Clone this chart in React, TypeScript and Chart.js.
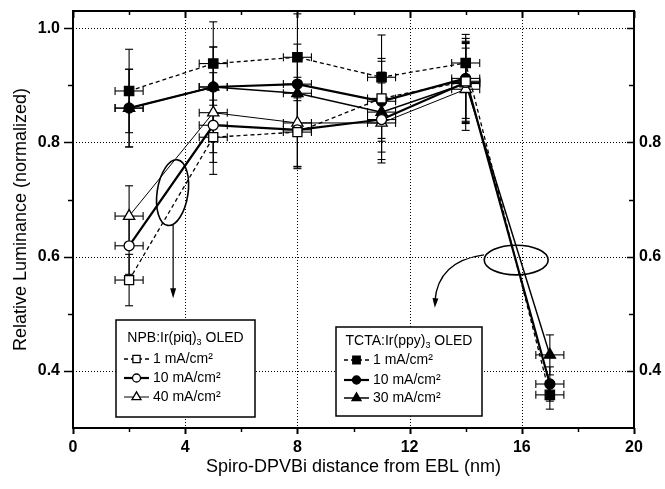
import React, { useEffect, useRef } from "react";
import { Chart, registerables } from "chart.js";
Chart.register(...registerables);

// ---------- data ----------
const npbDistances = [2, 5, 8, 11, 14];
const tctaDistances = [2, 5, 8, 11, 14, 17];

const npb1 = [0.559, 0.809, 0.818, 0.877, 0.907];
const npb1Err = [0.045, 0.065, 0.06, 0.07, 0.07];
const npb10 = [0.619, 0.83, 0.822, 0.84, 0.905];
const npb10Err = [0.05, 0.065, 0.065, 0.07, 0.07];
const npb40 = [0.671, 0.852, 0.834, 0.834, 0.893];
const npb40Err = [0.053, 0.07, 0.08, 0.07, 0.072];

const tcta1 = [0.89, 0.938, 0.949, 0.914, 0.939, 0.358];
const tcta1Err = [0.073, 0.073, 0.076, 0.074, 0.05, 0.025];
const tcta10 = [0.86, 0.897, 0.902, 0.872, 0.912, 0.377];
const tcta10Err = [0.068, 0.07, 0.07, 0.07, 0.07, 0.03];
const tcta30 = [0.86, 0.897, 0.886, 0.853, 0.903, 0.428];
const tcta30Err = [0.068, 0.07, 0.07, 0.07, 0.07, 0.035];

const xErr = 0.5;

const xTickValues = [0, 4, 8, 12, 16, 20];
const xMinorValues = [2, 6, 10, 14, 18];
const yTickValues = [0.4, 0.6, 0.8, 1.0];
const yMinorValues = [0.5, 0.7, 0.9];
const yRightLabelValues = [0.4, 0.6, 0.8];

const FONT = '"Liberation Sans", Arial, Helvetica, sans-serif';
const DASH = [4, 3];

type Series = {
  label: string;
  xs: number[];
  ys: number[];
  errs: number[];
  style: "rect" | "circle" | "triangle";
  filled: boolean;
  dash: number[];
  width: number;
  radius: number;
};

const npbSeries: Series[] = [
  { label: "1 mA/cm²", xs: npbDistances, ys: npb1, errs: npb1Err, style: "rect", filled: false, dash: DASH, width: 1.3, radius: 6.4 },
  { label: "10 mA/cm²", xs: npbDistances, ys: npb10, errs: npb10Err, style: "circle", filled: false, dash: [], width: 2.2, radius: 5 },
  { label: "40 mA/cm²", xs: npbDistances, ys: npb40, errs: npb40Err, style: "triangle", filled: false, dash: [], width: 1, radius: 6.5 },
];
const tctaSeries: Series[] = [
  { label: "1 mA/cm²", xs: tctaDistances, ys: tcta1, errs: tcta1Err, style: "rect", filled: true, dash: DASH, width: 1.3, radius: 6.6 },
  { label: "10 mA/cm²", xs: tctaDistances, ys: tcta10, errs: tcta10Err, style: "circle", filled: true, dash: [], width: 2.2, radius: 5 },
  { label: "30 mA/cm²", xs: tctaDistances, ys: tcta30, errs: tcta30Err, style: "triangle", filled: true, dash: [], width: 1.5, radius: 6.5 },
];

function drawMarker(ctx: CanvasRenderingContext2D, style: string, x: number, y: number, r: number, filled: boolean) {
  ctx.save();
  ctx.setLineDash([]);
  ctx.lineWidth = 1.3;
  ctx.strokeStyle = "#000";
  ctx.fillStyle = filled ? "#000" : "#fff";
  ctx.beginPath();
  if (style === "rect") {
    const s = Math.SQRT1_2 * r;
    ctx.rect(x - s, y - s, 2 * s, 2 * s);
  } else if (style === "circle") {
    ctx.arc(x, y, r, 0, Math.PI * 2);
  } else {
    let a = 0;
    ctx.moveTo(x + Math.sin(a) * r, y - Math.cos(a) * r);
    a += (2 * Math.PI) / 3;
    ctx.lineTo(x + Math.sin(a) * r, y - Math.cos(a) * r);
    a += (2 * Math.PI) / 3;
    ctx.lineTo(x + Math.sin(a) * r, y - Math.cos(a) * r);
    ctx.closePath();
  }
  ctx.fill();
  ctx.stroke();
  ctx.restore();
}

function seg(ctx: CanvasRenderingContext2D, x1: number, y1: number, x2: number, y2: number) {
  ctx.beginPath();
  ctx.moveTo(x1, y1);
  ctx.lineTo(x2, y2);
  ctx.stroke();
}

const backgroundPlugin = {
  id: "gridAndErrors",
  beforeDatasetsDraw(chart: any) {
    const { ctx, chartArea: a } = chart;
    const xs = chart.scales.x;
    const ys = chart.scales.y;
    ctx.save();
    // dotted grid
    ctx.strokeStyle = "#000";
    ctx.lineWidth = 1;
    ctx.setLineDash([1, 2]);
    xTickValues.slice(1, -1).forEach((v) => {
      const px = Math.round(xs.getPixelForValue(v)) + 0.5;
      seg(ctx, px, a.top, px, a.bottom);
    });
    yTickValues.forEach((v) => {
      const py = Math.round(ys.getPixelForValue(v)) + 0.5;
      seg(ctx, a.left, py, a.right, py);
    });
    ctx.setLineDash([]);
    // error bars
    ctx.lineWidth = 1.1;
    chart.data.datasets.forEach((ds: any) => {
      ds.data.forEach((p: any, i: number) => {
        const e = ds.errY[i];
        const px = xs.getPixelForValue(p.x);
        const py = ys.getPixelForValue(p.y);
        const t = ys.getPixelForValue(p.y + e);
        const b = ys.getPixelForValue(p.y - e);
        const l = xs.getPixelForValue(p.x - xErr);
        const r = xs.getPixelForValue(p.x + xErr);
        seg(ctx, px, t, px, b);
        seg(ctx, px - 4, t, px + 4, t);
        seg(ctx, px - 4, b, px + 4, b);
        seg(ctx, l, py, r, py);
        seg(ctx, l, py - 4, l, py + 4);
        seg(ctx, r, py - 4, r, py + 4);
      });
    });
    ctx.restore();
  },
  afterDatasetsDraw(chart: any) {
    const { ctx, chartArea: a } = chart;
    const xs = chart.scales.x;
    const ys = chart.scales.y;
    ctx.save();
    ctx.strokeStyle = "#000";
    ctx.fillStyle = "#000";
    ctx.setLineDash([]);

    // ---------- annotations ----------
    ctx.lineWidth = 1.6;
    // left ellipse + straight arrow
    {
      const cx = xs.getPixelForValue(3.55);
      const cy = ys.getPixelForValue(0.712);
      const rx = xs.getPixelForValue(3.55 + 0.55) - cx;
      const ry = cy - ys.getPixelForValue(0.712 + 0.058);
      ctx.beginPath();
      ctx.ellipse(cx, cy, rx, ry, 0.15, 0, Math.PI * 2);
      ctx.stroke();
      const ax = xs.getPixelForValue(3.57);
      const y1 = ys.getPixelForValue(0.656);
      const y2 = ys.getPixelForValue(0.527);
      ctx.lineWidth = 1.2;
      seg(ctx, ax, y1, ax, y2 - 8);
      ctx.beginPath();
      ctx.moveTo(ax, y2);
      ctx.lineTo(ax - 3, y2 - 10);
      ctx.lineTo(ax + 3, y2 - 10);
      ctx.closePath();
      ctx.fill();
    }
    // right ellipse + curved arrow
    {
      ctx.lineWidth = 1.6;
      const cx = xs.getPixelForValue(15.8);
      const cy = ys.getPixelForValue(0.594);
      const rx = xs.getPixelForValue(15.8 + 1.14) - cx;
      const ry = cy - ys.getPixelForValue(0.594 + 0.026);
      ctx.beginPath();
      ctx.ellipse(cx, cy, rx, ry, 0, 0, Math.PI * 2);
      ctx.stroke();
      const sx = xs.getPixelForValue(14.65), sy = ys.getPixelForValue(0.603);
      const qx = xs.getPixelForValue(13.0), qy = ys.getPixelForValue(0.592);
      const ex = xs.getPixelForValue(12.9), ey = ys.getPixelForValue(0.514);
      ctx.lineWidth = 1.4;
      ctx.beginPath();
      ctx.moveTo(sx, sy);
      ctx.quadraticCurveTo(qx, qy, ex, ey - 4);
      ctx.stroke();
      const ang = Math.atan2(ey - qy, ex - qx);
      ctx.beginPath();
      ctx.moveTo(ex, ey + 2);
      ctx.lineTo(ex - 10 * Math.cos(ang - 0.3), ey + 2 - 10 * Math.sin(ang - 0.3));
      ctx.lineTo(ex - 10 * Math.cos(ang + 0.3), ey + 2 - 10 * Math.sin(ang + 0.3));
      ctx.closePath();
      ctx.fill();
    }

    // ---------- frame and ticks ----------
    const L = a.left, R = a.right, T = a.top, B = a.bottom;
    xTickValues.forEach((v) => {
      const px = Math.round(xs.getPixelForValue(v)) + 0.5;
      ctx.lineWidth = 2;
      seg(ctx, px, B, px, B + 6);
      seg(ctx, px, T, px, T + 7);
    });
    xMinorValues.forEach((v) => {
      const px = Math.round(xs.getPixelForValue(v)) + 0.5;
      ctx.lineWidth = 1.5;
      seg(ctx, px, B, px, B + 4);
      seg(ctx, px, T, px, T + 4);
    });
    yTickValues.forEach((v) => {
      const py = Math.round(ys.getPixelForValue(v)) + 0.5;
      ctx.lineWidth = 1.5;
      seg(ctx, L - 9, py, L, py);
      seg(ctx, R - 7, py, R, py);
    });
    yMinorValues.forEach((v) => {
      const py = Math.round(ys.getPixelForValue(v)) + 0.5;
      ctx.lineWidth = 1.5;
      seg(ctx, L - 5, py, L, py);
      seg(ctx, R - 5, py, R, py);
    });
    ctx.lineWidth = 2;
    ctx.strokeRect(L, T, R - L, B - T);

    // ---------- legends ----------
    const drawBox = (
      left: number, top: number, right: number, bottom: number,
      titleMain: string, titleSub: string, titleRest: string,
      titleY: number, rowYs: number[], series: Series[]
    ) => {
      ctx.save();
      ctx.fillStyle = "#fff";
      ctx.fillRect(left, top, right - left, bottom - top);
      ctx.strokeStyle = "#000";
      ctx.lineWidth = 1.5;
      ctx.setLineDash([]);
      ctx.strokeRect(left, top, right - left, bottom - top);
      ctx.fillStyle = "#000";
      ctx.textBaseline = "middle";
      ctx.textAlign = "left";
      const big = `14px ${FONT}`;
      const small = `9px ${FONT}`;
      ctx.font = big;
      const w1 = ctx.measureText(titleMain).width;
      ctx.font = small;
      const w2 = ctx.measureText(titleSub).width;
      ctx.font = big;
      const w3 = ctx.measureText(titleRest).width;
      let tx = (left + right) / 2 - (w1 + w2 + w3) / 2;
      ctx.fillText(titleMain, tx, titleY);
      tx += w1;
      ctx.font = small;
      ctx.fillText(titleSub, tx, titleY + 5);
      tx += w2;
      ctx.font = big;
      ctx.fillText(titleRest, tx, titleY);
      series.forEach((s, i) => {
        const y = rowYs[i];
        ctx.strokeStyle = "#000";
        ctx.lineWidth = s.width;
        ctx.setLineDash(s.dash);
        seg(ctx, left + 8, y, left + 33, y);
        ctx.setLineDash([]);
        drawMarker(ctx, s.style, left + 20.5, y, s.radius * 0.8, s.filled);
        ctx.fillStyle = "#000";
        ctx.font = big;
        ctx.fillText(s.label, left + 37, y);
      });
      ctx.restore();
    };
    drawBox(116, 320, 255, 417, "NPB:Ir(piq)", "3", " OLED", 338, [359, 378, 397], npbSeries);
    drawBox(336, 327, 482, 416, "TCTA:Ir(ppy)", "3", " OLED", 341, [360, 380, 398], tctaSeries);

    ctx.restore();
  },
};

function toDataset(s: Series) {
  return {
    label: s.label,
    data: s.xs.map((x, i) => ({ x, y: s.ys[i] })),
    errY: s.errs,
    showLine: true,
    borderColor: "#000",
    borderWidth: s.width,
    borderDash: s.dash,
    tension: 0,
    fill: false,
    pointStyle: s.style,
    pointRadius: s.radius,
    pointBorderWidth: 1.3,
    pointBorderColor: "#000",
    pointBackgroundColor: s.filled ? "#000" : "#fff",
  };
}

const noPad = (s: any) => {
  s.paddingTop = 0;
  s.paddingBottom = 0;
};

export default function App() {
  const ref = useRef<HTMLCanvasElement>(null);
  useEffect(() => {
    document.body.style.margin = "0";
    const tickFont = { family: FONT, size: 16, weight: "bold" as const };
    const chart = new Chart(ref.current as HTMLCanvasElement, {
      type: "scatter",
      data: {
        datasets: [...npbSeries.map(toDataset), ...tctaSeries.map(toDataset)] as any,
      },
      options: {
        animation: false,
        responsive: false,
        devicePixelRatio: 1,
        events: [],
        layout: { padding: { top: 11, left: 0, right: 0, bottom: 0 } },
        plugins: { legend: { display: false }, tooltip: { enabled: false } },
        scales: {
          x: {
            type: "linear",
            position: "bottom",
            min: 0,
            max: 20,
            afterBuildTicks: (s: any) => {
              s.ticks = xTickValues.map((v) => ({ value: v }));
            },
            afterFit: (s: any) => {
              s.height = 61;
              s.paddingLeft = 0;
              s.paddingRight = 0;
            },
            grid: { display: false, drawTicks: false },
            border: { display: false },
            ticks: {
              color: "#000",
              font: tickFont,
              padding: 10,
              maxRotation: 0,
              autoSkip: false,
              callback: (v: any) => String(v),
            },
            title: {
              display: true,
              text: "Spiro-DPVBi distance from EBL (nm)",
              color: "#000",
              font: { family: FONT, size: 18 },
              padding: { top: 0, bottom: 11 },
            },
          },
          y: {
            type: "linear",
            position: "left",
            min: 0.3,
            max: 1.03,
            afterBuildTicks: (s: any) => {
              s.ticks = yTickValues.map((v) => ({ value: v }));
            },
            afterFit: (s: any) => {
              s.width = 73;
              noPad(s);
            },
            grid: { display: false, drawTicks: false },
            border: { display: false },
            ticks: {
              color: "#000",
              font: tickFont,
              padding: 13,
              callback: (v: any) => Number(v).toFixed(1),
            },
            title: {
              display: true,
              text: "Relative Luminance (normalized)",
              color: "#000",
              font: { family: FONT, size: 18 },
              padding: { top: 10, bottom: 0 },
            },
          },
          y2: {
            type: "linear",
            position: "right",
            min: 0.3,
            max: 1.03,
            afterBuildTicks: (s: any) => {
              s.ticks = yRightLabelValues.map((v) => ({ value: v }));
            },
            afterFit: (s: any) => {
              s.width = 31;
              noPad(s);
            },
            grid: { display: false, drawTicks: false },
            border: { display: false },
            ticks: {
              color: "#000",
              font: tickFont,
              padding: 5,
              callback: (v: any) => Number(v).toFixed(1),
            },
          },
        },
      } as any,
      plugins: [backgroundPlugin],
    });
    return () => chart.destroy();
  }, []);
  return (
    <div style={{ position: "absolute", left: 0, top: 0, width: 665, height: 489, background: "#fff" }}>
      <canvas ref={ref} width={665} height={489} style={{ display: "block", width: 665, height: 489 }} />
    </div>
  );
}
